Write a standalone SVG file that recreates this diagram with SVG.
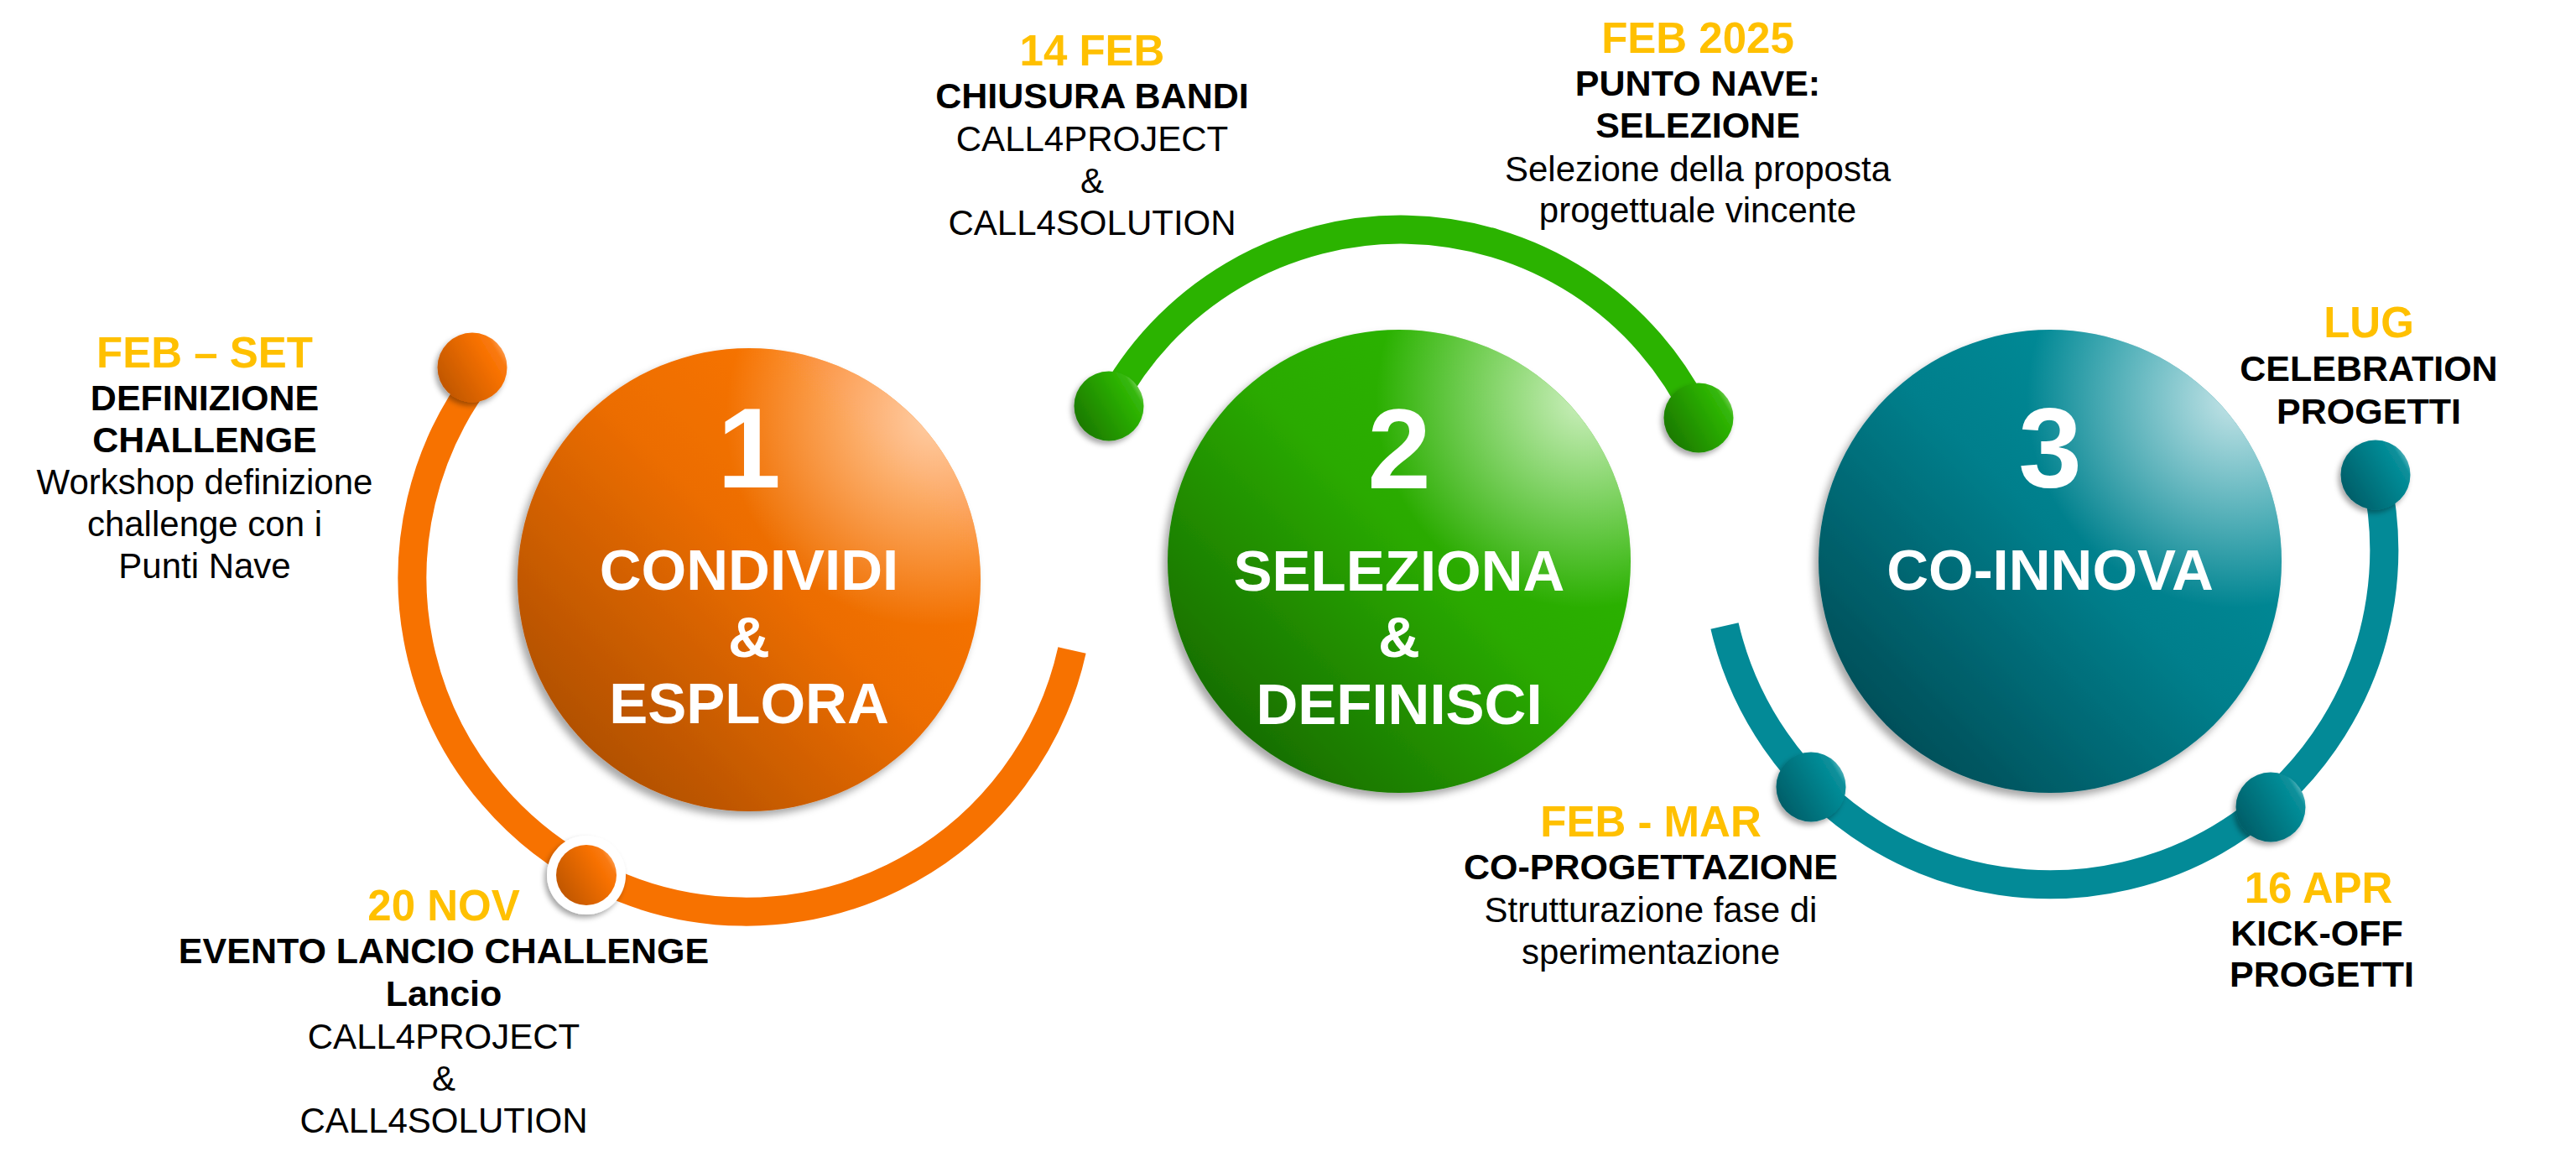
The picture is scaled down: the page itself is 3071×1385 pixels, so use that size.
<svg xmlns="http://www.w3.org/2000/svg" width="3071" height="1385" viewBox="0 0 3071 1385">
<defs>
<style>
text{font-family:"Liberation Sans",Arial,Helvetica,sans-serif;text-anchor:middle}
.y{fill:#FFC000;font-weight:bold;font-size:51px}
.b{fill:#000;font-weight:bold;font-size:43px}
.r{fill:#000;font-size:42px}
.w{fill:#fff;font-weight:bold;font-size:69px}
.d{fill:#fff;font-weight:bold;font-size:136px}
.arc{fill:none;stroke-width:34;stroke-linecap:butt}
</style>
<filter id="sh" x="-20%" y="-20%" width="140%" height="140%">
<feDropShadow dx="-5" dy="6" stdDeviation="5" flood-color="#000" flood-opacity="0.35"/>
</filter>
<filter id="shs" x="-30%" y="-30%" width="160%" height="160%">
<feDropShadow dx="-3" dy="4" stdDeviation="3" flood-color="#000" flood-opacity="0.35"/>
</filter>
<linearGradient id="gO" x1="0.15" y1="0.85" x2="0.85" y2="0.15">
<stop offset="0" stop-color="#b35100"/><stop offset="0.55" stop-color="#ec6d00"/><stop offset="1" stop-color="#fb7608"/>
</linearGradient>
<linearGradient id="gG" x1="0.15" y1="0.85" x2="0.85" y2="0.15">
<stop offset="0" stop-color="#187000"/><stop offset="0.55" stop-color="#2aaa00"/><stop offset="1" stop-color="#2db600"/>
</linearGradient>
<linearGradient id="gT" x1="0.15" y1="0.85" x2="0.85" y2="0.15">
<stop offset="0" stop-color="#02505a"/><stop offset="0.55" stop-color="#037f8c"/><stop offset="1" stop-color="#058e9a"/>
</linearGradient>
<radialGradient id="hO" cx="0.9" cy="0.15" r="0.45">
<stop offset="0" stop-color="#ffd2ad" stop-opacity="0.95"/><stop offset="1" stop-color="#ffd2ad" stop-opacity="0"/>
</radialGradient>
<radialGradient id="hG" cx="0.9" cy="0.15" r="0.45">
<stop offset="0" stop-color="#d4f2c8" stop-opacity="0.95"/><stop offset="1" stop-color="#d4f2c8" stop-opacity="0"/>
</radialGradient>
<radialGradient id="hT" cx="0.9" cy="0.15" r="0.45">
<stop offset="0" stop-color="#cfe8eb" stop-opacity="0.95"/><stop offset="1" stop-color="#cfe8eb" stop-opacity="0"/>
</radialGradient>
<linearGradient id="bO" x1="0" y1="0.8" x2="1" y2="0.2">
<stop offset="0" stop-color="#bb5400"/><stop offset="0.72" stop-color="#f77100"/><stop offset="0.86" stop-color="#f97a12"/><stop offset="1" stop-color="#ffb57c"/>
</linearGradient>
<linearGradient id="bG" x1="0" y1="0.8" x2="1" y2="0.2">
<stop offset="0" stop-color="#1a7400"/><stop offset="0.72" stop-color="#2bb000"/><stop offset="0.86" stop-color="#36b80e"/><stop offset="1" stop-color="#9fdc88"/>
</linearGradient>
<linearGradient id="bT" x1="0" y1="0.8" x2="1" y2="0.2">
<stop offset="0" stop-color="#035a64"/><stop offset="0.72" stop-color="#038893"/><stop offset="0.86" stop-color="#0a909b"/><stop offset="1" stop-color="#8fcdd3"/>
</linearGradient>
</defs>
<rect width="3071" height="1385" fill="#fff"/>

<g id="connectors">
<path class="arc" stroke="#f77200" d="M 574 446 A 398 398 0 1 0 1278 775"/>
<path class="arc" stroke="#2bb300" d="M 1322 484 A 393 393 0 0 1 2025 498"/>
<path class="arc" stroke="#038a97" d="M 2056 746 A 397 397 0 1 0 2832 566"/>
</g>

<g id="node-1">
<circle cx="893" cy="691" r="276" fill="url(#gO)" filter="url(#sh)"/>
<circle cx="893" cy="691" r="276" fill="url(#hO)"/>
<text class="d" x="893" y="581">1</text>
<text class="w" x="893" y="703">CONDIVIDI</text>
<text class="w" x="893" y="783">&amp;</text>
<text class="w" x="893" y="862">ESPLORA</text>
</g>

<g id="node-2">
<circle cx="1668" cy="669" r="276" fill="url(#gG)" filter="url(#sh)"/>
<circle cx="1668" cy="669" r="276" fill="url(#hG)"/>
<text class="d" x="1668" y="582">2</text>
<text class="w" x="1668" y="704">SELEZIONA</text>
<text class="w" x="1668" y="783">&amp;</text>
<text class="w" x="1668" y="863">DEFINISCI</text>
</g>

<g id="node-3">
<circle cx="2444" cy="669" r="276" fill="url(#gT)" filter="url(#sh)"/>
<circle cx="2444" cy="669" r="276" fill="url(#hT)"/>
<text class="d" x="2444" y="580">3</text>
<text class="w" x="2444" y="703">CO-INNOVA</text>
</g>

<g id="milestone-feb-set">
<circle cx="563" cy="438" r="41.5" fill="url(#bO)" filter="url(#shs)"/>
<text class="y" x="244" y="438">FEB – SET</text>
<text class="b" x="244" y="489">DEFINIZIONE</text>
<text class="b" x="244" y="539">CHALLENGE</text>
<text class="r" x="244" y="589">Workshop definizione</text>
<text class="r" x="244" y="639">challenge con i</text>
<text class="r" x="244" y="689">Punti Nave</text>
</g>

<g id="milestone-20-nov">
<circle cx="699" cy="1043" r="47" fill="#fff" filter="url(#shs)"/>
<circle cx="699" cy="1043" r="36" fill="url(#bO)"/>
<text class="y" x="529" y="1097">20 NOV</text>
<text class="b" x="529" y="1148">EVENTO LANCIO CHALLENGE</text>
<text class="b" x="529" y="1199">Lancio</text>
<text class="r" x="529" y="1250">CALL4PROJECT</text>
<text class="r" x="529" y="1300">&amp;</text>
<text class="r" x="529" y="1350">CALL4SOLUTION</text>
</g>

<g id="milestone-14-feb">
<circle cx="1322" cy="484" r="41.5" fill="url(#bG)" filter="url(#shs)"/>
<text class="y" x="1302" y="78">14 FEB</text>
<text class="b" x="1302" y="129">CHIUSURA BANDI</text>
<text class="r" x="1302" y="180">CALL4PROJECT</text>
<text class="r" x="1302" y="230">&amp;</text>
<text class="r" x="1302" y="280">CALL4SOLUTION</text>
</g>

<g id="milestone-feb-2025">
<circle cx="2025" cy="498" r="41.5" fill="url(#bG)" filter="url(#shs)"/>
<text class="y" x="2024" y="63">FEB 2025</text>
<text class="b" x="2024" y="114">PUNTO NAVE:</text>
<text class="b" x="2024" y="164">SELEZIONE</text>
<text class="r" x="2024" y="216">Selezione della proposta</text>
<text class="r" x="2024" y="265">progettuale vincente</text>
</g>

<g id="milestone-feb-mar">
<circle cx="2159" cy="938" r="41.5" fill="url(#bT)" filter="url(#shs)"/>
<text class="y" x="1968" y="997">FEB - MAR</text>
<text class="b" x="1968" y="1048">CO-PROGETTAZIONE</text>
<text class="r" x="1968" y="1099">Strutturazione fase di</text>
<text class="r" x="1968" y="1149">sperimentazione</text>
</g>

<g id="milestone-16-apr">
<circle cx="2707" cy="962" r="41.5" fill="url(#bT)" filter="url(#shs)"/>
<text class="y" x="2764" y="1076">16 APR</text>
<text class="b" x="2762" y="1127">KICK-OFF</text>
<text class="b" x="2768" y="1176">PROGETTI</text>
</g>

<g id="milestone-lug">
<circle cx="2832" cy="566" r="41.5" fill="url(#bT)" filter="url(#shs)"/>
<text class="y" x="2824" y="402">LUG</text>
<text class="b" x="2824" y="454">CELEBRATION</text>
<text class="b" x="2824" y="505">PROGETTI</text>
</g>
</svg>
